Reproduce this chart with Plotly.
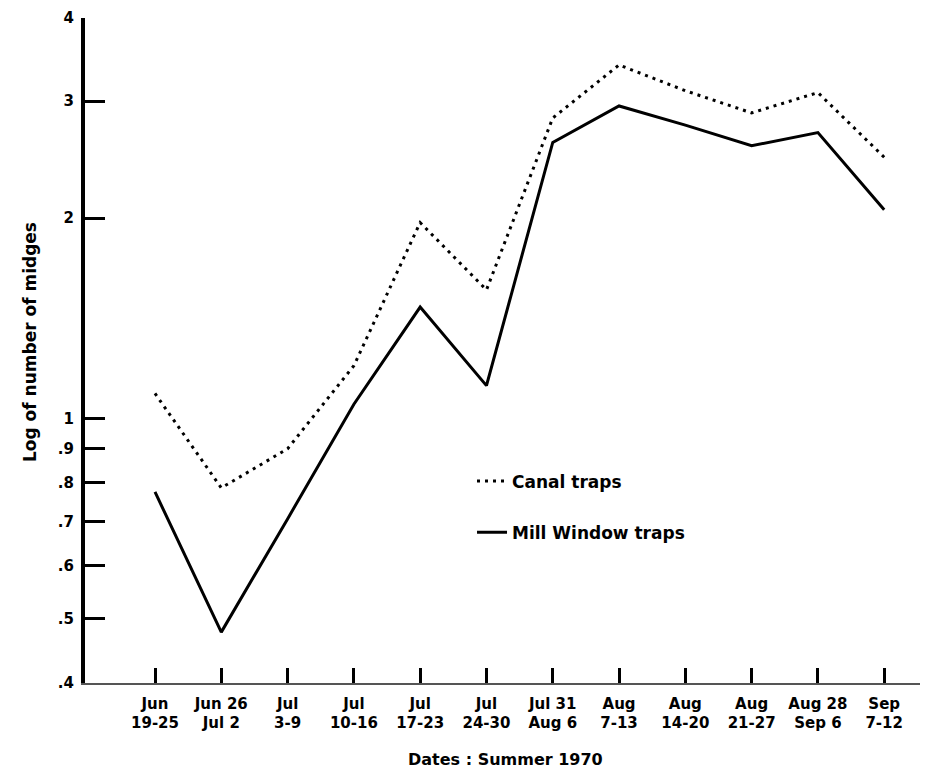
import plotly.graph_objects as go

categories = ["Jun<br>19-25", "Jun 26<br>Jul 2", "Jul<br>3-9", "Jul<br>10-16", "Jul<br>17-23",
              "Jul<br>24-30", "Jul 31<br>Aug 6", "Aug<br>7-13", "Aug<br>14-20", "Aug<br>21-27",
              "Aug 28<br>Sep 6", "Sep<br>7-12"]
canal_traps = [1.09, 0.786, 0.90, 1.20, 1.97, 1.56, 2.83, 3.40, 3.11, 2.88, 3.09, 2.47]
mill_window_traps = [0.775, 0.477, 0.706, 1.05, 1.47, 1.12, 2.60, 2.95, 2.76, 2.57, 2.69, 2.06]
y_tick_vals = [0.4, 0.5, 0.6, 0.7, 0.8, 0.9, 1, 2, 3, 4]
y_tick_text = [".4", ".5", ".6", ".7", ".8", ".9", "1", "2", "3", "4"]

x = list(range(len(categories)))
FONT = "DejaVu Sans"

fig = go.Figure()
fig.add_trace(go.Scatter(x=x, y=canal_traps, mode="lines", name="Canal traps",
                         legendgroup="a",
                         line=dict(color="black", width=3, dash="3px,5px")))
fig.add_trace(go.Scatter(x=x, y=mill_window_traps, mode="lines", name="Mill Window traps",
                         legendgroup="b",
                         line=dict(color="black", width=3)))

fig.update_layout(
    width=923, height=765,
    margin=dict(l=77, r=11, t=10, b=90),
    paper_bgcolor="white", plot_bgcolor="white",
    font=dict(family=FONT, color="black", size=13, weight="bold"),
    showlegend=True,
    legend=dict(x=0.4635, y=0.33, xanchor="left", yanchor="top",
                bgcolor="rgba(0,0,0,0)", tracegroupgap=26,
                font=dict(family=FONT, size=17, weight="bold")),
    xaxis=dict(range=[-1.056, 11.54], tickmode="array", tickvals=x, ticktext=categories,
               automargin=False, ticklabelstandoff=6,
               showgrid=False, zeroline=False, showline=True, linecolor="#555", linewidth=1.5,
               ticks="inside", ticklen=15, tickwidth=3, tickcolor="black",
               tickfont=dict(family=FONT, size=15, weight="bold")),
    yaxis=dict(type="log", range=[-0.3980, 0.6021], tickmode="array",
               tickvals=y_tick_vals, ticktext=y_tick_text, automargin=False,
               ticklabelstandoff=4, ticklabeloverflow="allow",
               showgrid=False, zeroline=False, showline=True, linecolor="black", linewidth=4,
               ticks="inside", ticklen=20, tickwidth=3, tickcolor="black",
               tickfont=dict(family=FONT, size=15, weight="bold")),
    annotations=[
        dict(text="Log of number of midges", xref="paper", yref="paper", x=-0.080, y=0.513,
             textangle=-90, showarrow=False, font=dict(family=FONT, size=17, weight="bold")),
        dict(text="Dates : Summer 1970", xref="paper", yref="paper", x=0.503, y=-0.133,
             showarrow=False, font=dict(family=FONT, size=16, weight="bold")),
    ],
)

fig.write_html("out.html")
